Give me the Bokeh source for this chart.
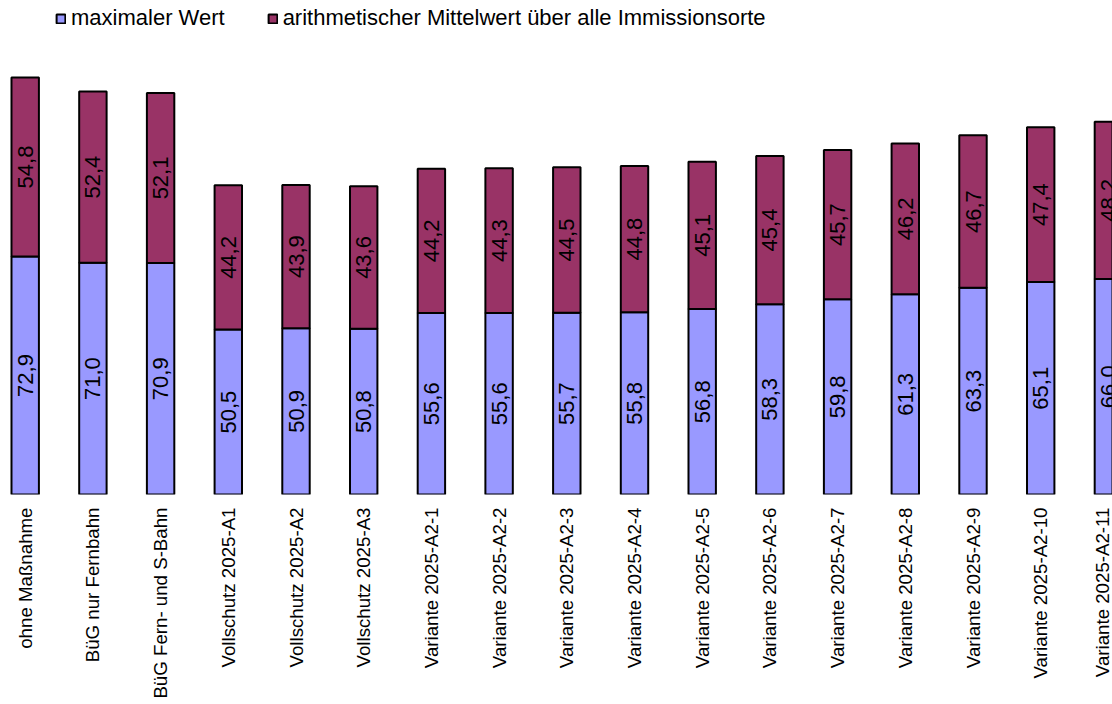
import math
from bokeh.plotting import figure
from bokeh.models import ColumnDataSource, Range1d, FixedTicker
from bokeh.core.properties import value
from bokeh.embed import file_html
from bokeh.resources import INLINE

categories = [
    "ohne Maßnahme", "BüG nur Fernbahn", "BüG Fern- und S-Bahn",
    "Vollschutz 2025-A1", "Vollschutz 2025-A2", "Vollschutz 2025-A3",
    "Variante 2025-A2-1", "Variante 2025-A2-2", "Variante 2025-A2-3",
    "Variante 2025-A2-4", "Variante 2025-A2-5", "Variante 2025-A2-6",
    "Variante 2025-A2-7", "Variante 2025-A2-8", "Variante 2025-A2-9",
    "Variante 2025-A2-10", "Variante 2025-A2-11",
]
max_values = [72.9, 71.0, 70.9, 50.5, 50.9, 50.8, 55.6, 55.6, 55.7, 55.8,
              56.8, 58.3, 59.8, 61.3, 63.3, 65.1, 66.0]
mean_values = [54.8, 52.4, 52.1, 44.2, 43.9, 43.6, 44.2, 44.3, 44.5, 44.8,
               45.1, 45.4, 45.7, 46.2, 46.7, 47.4, 48.2]
series_names = ["maximaler Wert", "arithmetischer Mittelwert über alle Immissionsorte"]

FONT = "Liberation Sans"
BLUE = "#9999FF"
PURPLE = "#993366"

x = list(range(len(categories)))
top_max = max_values
top_all = [a + b for a, b in zip(max_values, mean_values)]

src = ColumnDataSource(dict(
    x=x,
    zero=[0] * len(x),
    top_max=top_max,
    top_all=top_all,
    mid_max=[v / 2 for v in max_values],
    mid_mean=[a + b / 2 for a, b in zip(max_values, mean_values)],
    lbl_max=[f"{v:.1f}".replace(".", ",") for v in max_values],
    lbl_mean=[f"{v:.1f}".replace(".", ",") for v in mean_values],
))

W, H = 1112, 704
PX_X = 67.7
X0 = -24.7 / PX_X
BASE = 494
p = figure(width=W, height=H, output_backend="svg", toolbar_location=None,
           x_range=Range1d(X0, X0 + W / PX_X),
           y_range=Range1d(0, BASE / 3.265),
           min_border_left=0, min_border_right=0, min_border_top=0,
           min_border_bottom=H - BASE)
p.outline_line_color = None
p.background_fill_color = "white"
p.border_fill_color = "white"
p.xgrid.visible = False
p.ygrid.visible = False
p.yaxis.visible = False

bw = 0.405
p.vbar(x="x", bottom="zero", top="top_max", width=bw, source=src,
       fill_color=BLUE, line_color="black", line_width=2, legend_label=series_names[0])
p.vbar(x="x", bottom="top_max", top="top_all", width=bw, source=src,
       fill_color=PURPLE, line_color="black", line_width=2, legend_label=series_names[1])

for ycol, tcol in (("mid_max", "lbl_max"), ("mid_mean", "lbl_mean")):
    p.text(x="x", y=ycol, text=tcol, source=src, angle=math.pi / 2,
           text_align="center", text_baseline="middle",
           text_font=value(FONT), text_font_size="22px", text_color="black")

ax = p.xaxis[0]
ax.ticker = FixedTicker(ticks=x)
ax.major_label_overrides = {i: c for i, c in enumerate(categories)}
ax.major_label_orientation = math.pi / 2
ax.major_label_text_font = FONT
ax.major_label_text_font_size = "18.7px"
ax.major_label_text_color = "black"
ax.major_label_standoff = 13
ax.axis_line_color = None
ax.major_tick_line_color = None
ax.minor_tick_line_color = None
ax.major_tick_out = 0
ax.major_tick_in = 0

lg = p.legend[0]
lg.orientation = "horizontal"
lg.location = (55, 463)
lg.padding = 0
lg.margin = 0
lg.spacing = 42
lg.label_standoff = 5
lg.glyph_width = 11
lg.glyph_height = 11
lg.label_text_font = FONT
lg.label_text_font_size = "22px"
lg.label_text_color = "black"
lg.border_line_color = None
lg.background_fill_alpha = 0

open("out.html", "w").write(file_html(p, INLINE))
